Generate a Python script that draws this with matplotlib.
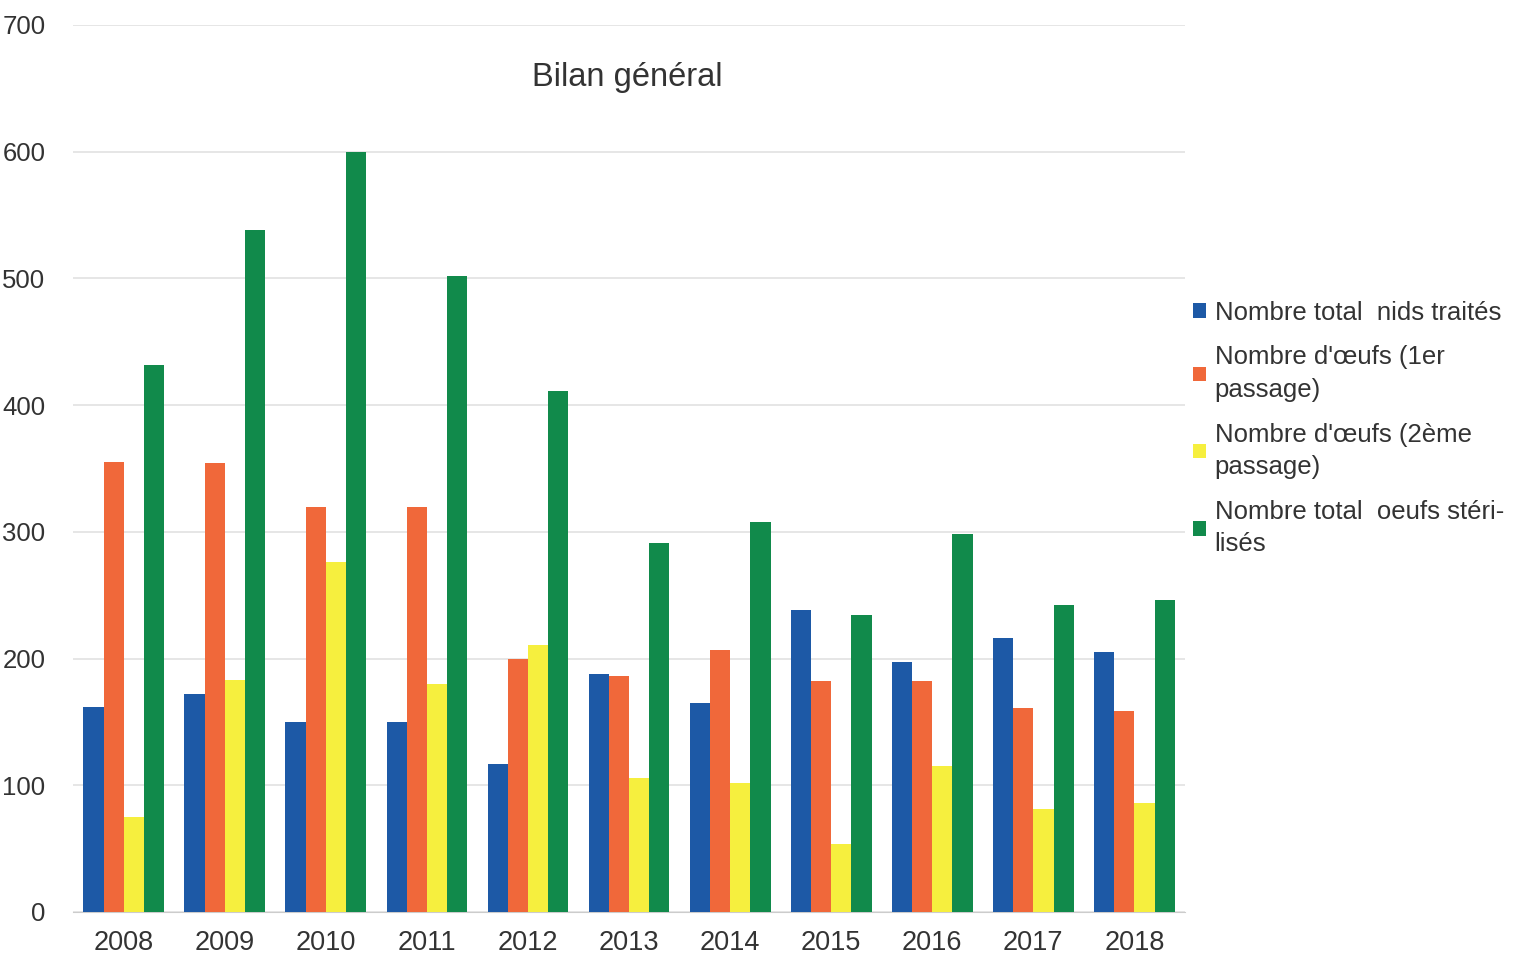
import numpy as np
import matplotlib
matplotlib.use('Agg')
import matplotlib.pyplot as plt

plt.rcParams['font.family'] = ['Liberation Sans', 'DejaVu Sans']

# data
years = ['2008', '2009', '2010', '2011', '2012', '2013', '2014', '2015', '2016', '2017', '2018']
nids_traites = [162, 172, 150, 150, 117, 188, 165, 238, 197, 216, 205]
oeufs_1er = [355, 354, 320, 320, 200, 186, 207, 182, 182, 161, 159]
oeufs_2eme = [75, 183, 276, 180, 211, 106, 102, 54, 115, 81, 86]
oeufs_steril = [432, 538, 600, 502, 411, 291, 308, 234, 298, 242, 246]

series_labels = ["Nombre total  nids traités",
                 "Nombre d'œufs (1er\npassage)",
                 "Nombre d'œufs (2ème\npassage)",
                 "Nombre total  oeufs stéri-\nlisés"]
colors = ['#1d59a6', '#f0683a', '#f6ef3e', '#118a4b']
y_ticks = [0, 100, 200, 300, 400, 500, 600, 700]

fig = plt.figure(figsize=(15.25, 9.61), dpi=100)
ax = fig.add_axes([0.048, 0.051, 0.729, 0.923])

x = np.arange(len(years))
width = 0.2
all_series = [nids_traites, oeufs_1er, oeufs_2eme, oeufs_steril]
for i, (vals, col, lab) in enumerate(zip(all_series, colors, series_labels)):
    ax.bar(x + (i - 1.5) * width, vals, width, color=col, label=lab, zorder=3)

ax.set_xlim(-0.5, len(years) - 0.5)
ax.set_ylim(0, 700)
ax.set_yticks(y_ticks)
ax.set_xticks(x)
ax.set_xticklabels(years)
ax.yaxis.grid(True, color='#e2e2e2', linewidth=1.2, zorder=0)
for s in ['top', 'right', 'left']:
    ax.spines[s].set_visible(False)
ax.spines['bottom'].set_color('#cccccc')
ax.tick_params(axis='y', length=0, labelsize=18.5, labelcolor='#333333', pad=20)
ax.tick_params(axis='x', length=0, labelsize=19.5, labelcolor='#333333', pad=13)

fig.text(0.411, 0.919, 'Bilan général', fontsize=23.5, color='#333333',
         ha='center', va='center')

handles, labels = ax.get_legend_handles_labels()
leg = fig.legend(handles, labels, loc='upper left', bbox_to_anchor=(0.767, 0.711),
                 frameon=False, fontsize=18.5, handlelength=0.5, handleheight=0.5,
                 handletextpad=0.35, labelspacing=0.8, labelcolor='#333333')
for t in leg.get_texts():
    t.set_linespacing(1.45)

fig.savefig('out.png', dpi=100)
